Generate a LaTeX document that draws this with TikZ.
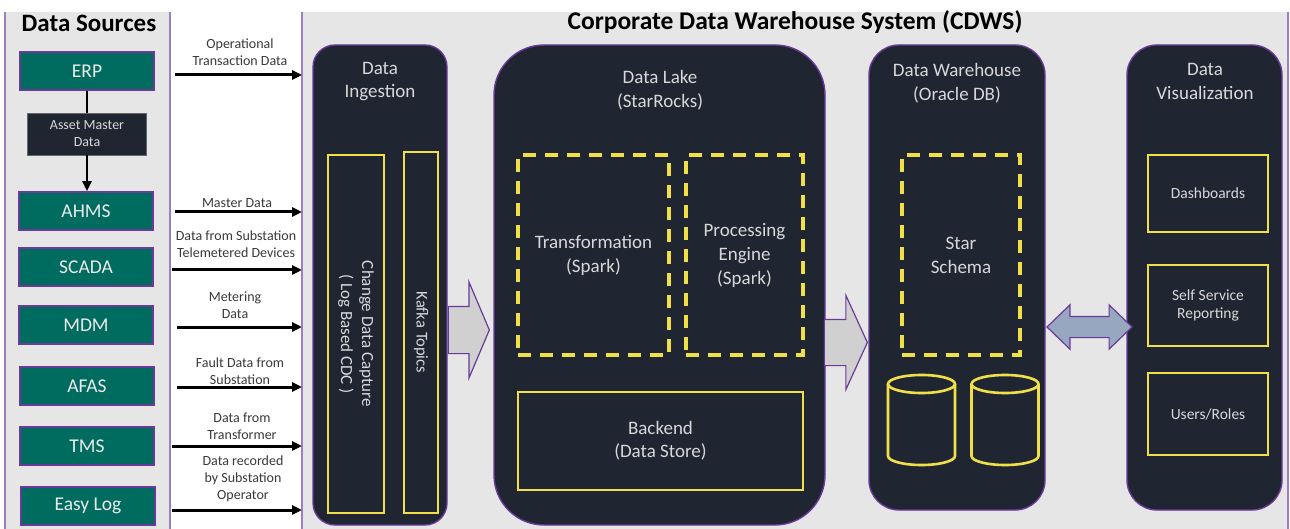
\documentclass[tikz,border=0pt]{standalone}
\usepackage{fontspec}
\setmainfont{Carlito}
\usetikzlibrary{arrows.meta,shapes.arrows}

\definecolor{bggray}{HTML}{E7E6E6}
\definecolor{panelnavy}{HTML}{1F2631}
\definecolor{edgepurple}{HTML}{6A3A9A}
\definecolor{stripline}{HTML}{9B7FC4}
\definecolor{srcteal}{HTML}{006B5F}
\definecolor{hiyellow}{HTML}{F0DF48}
\definecolor{softtext}{HTML}{D8D8D8}
\definecolor{labeltext}{HTML}{3A3A3A}
\definecolor{flowgray}{HTML}{D0D0D0}
\definecolor{linkblue}{HTML}{97A7BF}

\newcommand{\fsz}[2]{\fontsize{#1}{#2}\selectfont}

\tikzset{
  source/.style={draw=edgepurple, line width=1.6pt, fill=srcteal, text=white!92!black,
    minimum width=134pt, minimum height=38pt, inner sep=0pt, font=\fsz{19.5}{23}},
  assetbox/.style={fill=panelnavy, draw=black!60, line width=0.6pt, text=softtext, align=center,
    minimum width=119pt, minimum height=42pt, inner sep=0pt, font=\fsz{14}{17}},
  panel/.style={draw=edgepurple, line width=1.4pt, fill=panelnavy, inner sep=0pt, outer sep=0pt},
  panelname/.style={text=softtext, align=center, font=\fsz{19}{23.5}},
  solidbox/.style={draw=hiyellow, line width=2.8pt, text=softtext, align=center, inner sep=0pt},
  dashbox/.style={draw=hiyellow, line width=3.2pt, dash pattern=on 13pt off 9pt, text=softtext,
    align=center, inner sep=0pt, font=\fsz{19}{24}},
  feed/.style={line width=3pt, -{Triangle[length=10pt,width=9pt]}},
  feedlabel/.style={text=labeltext, align=center, font=\fsz{14}{17}},
  blockflow/.style={single arrow, draw=edgepurple, fill=flowgray, line width=1.2pt, inner xsep=0pt},
}

\begin{document}
\begin{tikzpicture}[x=1pt,y=-1pt]
\useasboundingbox (0,0) rectangle (1290,529);
\fill[white] (0,0) rectangle (1290,529);
\fill[bggray] (5,12) rectangle (170,529);
\fill[bggray] (302,12) rectangle (1288,529);
\foreach \x in {5,170,302,1288}
  \draw[stripline, line width=1.4pt] (\x,12) -- (\x,529);

\node[font=\bfseries\fsz{25}{29}] (srctitle) at (89,23) {Data Sources};
\node[font=\bfseries\fsz{25.5}{29}] (cdwstitle) at (795,22) {Corporate Data Warehouse System (CDWS)};

\node[source] (erp) at (87,71) {ERP};
\node[assetbox] (asset) at (87,134) {Asset Master\\Data};
\node[source] (ahms) at (86,211) {AHMS};
\node[source] (scada) at (86,267) {SCADA};
\node[source] (mdm) at (86,325) {MDM};
\node[source] (afas) at (87,386) {AFAS};
\node[source] (tms) at (87,446) {TMS};
\node[source] (easylog) at (88,506) {Easy Log};
\draw[line width=2.4pt] (erp) -- (asset);
\draw[line width=2.4pt, -{Triangle[length=10pt,width=9pt]}] (asset.south) -- (asset.south |- ahms.north);

\foreach \i/\xs/\y in {1/175/75,2/175/212,3/172/270,4/177/327,5/177/387,6/172/446,7/172/510}{
  \coordinate (in\i) at (\xs,\y);
  \coordinate (out\i) at (302,\y);
  \draw[feed] (in\i) -- (out\i);
}
\node[feedlabel] (lab1) at (240,52.5) {Operational\\Transaction Data};
\node[feedlabel] (lab2) at (237,203) {Master Data};
\node[feedlabel] (lab3) at (236,244.5) {Data from Substation\\Telemetered Devices};
\node[feedlabel] (lab4) at (235,305) {Metering\\Data};
\node[feedlabel] (lab5) at (240,371) {Fault Data from\\Substation};
\node[feedlabel] (lab6) at (242,426) {Data from\\Transformer};
\node[feedlabel] (lab7) at (243,479) {Data recorded\\by Substation\\Operator};

\node[panel, rounded corners=22pt, minimum width=134pt, minimum height=480pt] (ingest) at (380,285) {};
\node[panel, rounded corners=50pt, minimum width=331pt, minimum height=480pt] (lake) at (659.5,285) {};
\node[panel, rounded corners=30pt, minimum width=176pt, minimum height=465pt] (dw) at (957,277.5) {};
\node[panel, rounded corners=30pt, minimum width=155pt, minimum height=465pt] (viz) at (1204.5,277.5) {};

\node[panelname] (ingestname) at (380,81.5) {Data\\Ingestion};
\node[panelname] (lakename) at (660,90) {Data Lake\\(StarRocks)};
\node[panelname] (dwname) at (957,83) {Data Warehouse\\(Oracle DB)};
\node[panelname] (vizname) at (1205,81.5) {Data\\Visualization};

\node[solidbox, rotate=-90, minimum width=358pt, minimum height=56pt, font=\fsz{17}{21}] (cdc) at (356,334) {Change Data Capture\\( Log Based CDC )};
\node[solidbox, rotate=-90, minimum width=361pt, minimum height=34pt, font=\fsz{16.5}{20}] (kafka) at (421,332.5) {Kafka Topics};

\node[dashbox, minimum width=151pt, minimum height=200pt] (transform) at (593.5,255) {Transformation\\(Spark)};
\node[dashbox, minimum width=117pt, minimum height=200pt] (engine) at (744.5,255) {Processing\\Engine\\(Spark)};
\node[solidbox, minimum width=285pt, minimum height=98pt, font=\fsz{19}{23}] (backend) at (660.5,441) {Backend\\(Data Store)};

\node[dashbox, minimum width=118pt, minimum height=200pt] (schema) at (961,255) {Star\\Schema};
\foreach \cx in {921.5,1005}{
  \draw[hiyellow, line width=2.6pt] (\cx-33.5,384) -- (\cx-33.5,456)
    arc[start angle=180, end angle=0, x radius=33.5, y radius=9] -- (\cx+33.5,384);
  \draw[hiyellow, line width=2.6pt] (\cx,384) ellipse [x radius=33.5, y radius=9];
}

\node[solidbox, minimum width=120pt, minimum height=77pt, font=\fsz{15.5}{18}] (dashboards) at (1208,193.5) {Dashboards};
\node[solidbox, minimum width=120pt, minimum height=81pt, font=\fsz{15.5}{18}] (selfservice) at (1208,305.5) {Self Service\\Reporting};
\node[solidbox, minimum width=120pt, minimum height=82pt, font=\fsz{15.5}{18}] (roles) at (1208,414) {Users/Roles};

\node[blockflow, inner ysep=23pt, minimum height=41pt, minimum width=95pt,
  single arrow head extend=24.5pt, single arrow tip angle=134, anchor=tip] (flow1) at (490,330) {};
\node[blockflow, inner ysep=22.5pt, minimum height=43pt, minimum width=93pt,
  single arrow head extend=24pt, single arrow tip angle=131, anchor=tip] (flow2) at (868,342.5) {};
\node[double arrow, draw=edgepurple, fill=linkblue, line width=1.2pt, inner xsep=0pt, inner ysep=10pt,
  minimum height=85pt, minimum width=43pt, double arrow head extend=11.5pt, double arrow tip angle=88] (link) at (1089.5,327) {};
\end{tikzpicture}
\end{document}
